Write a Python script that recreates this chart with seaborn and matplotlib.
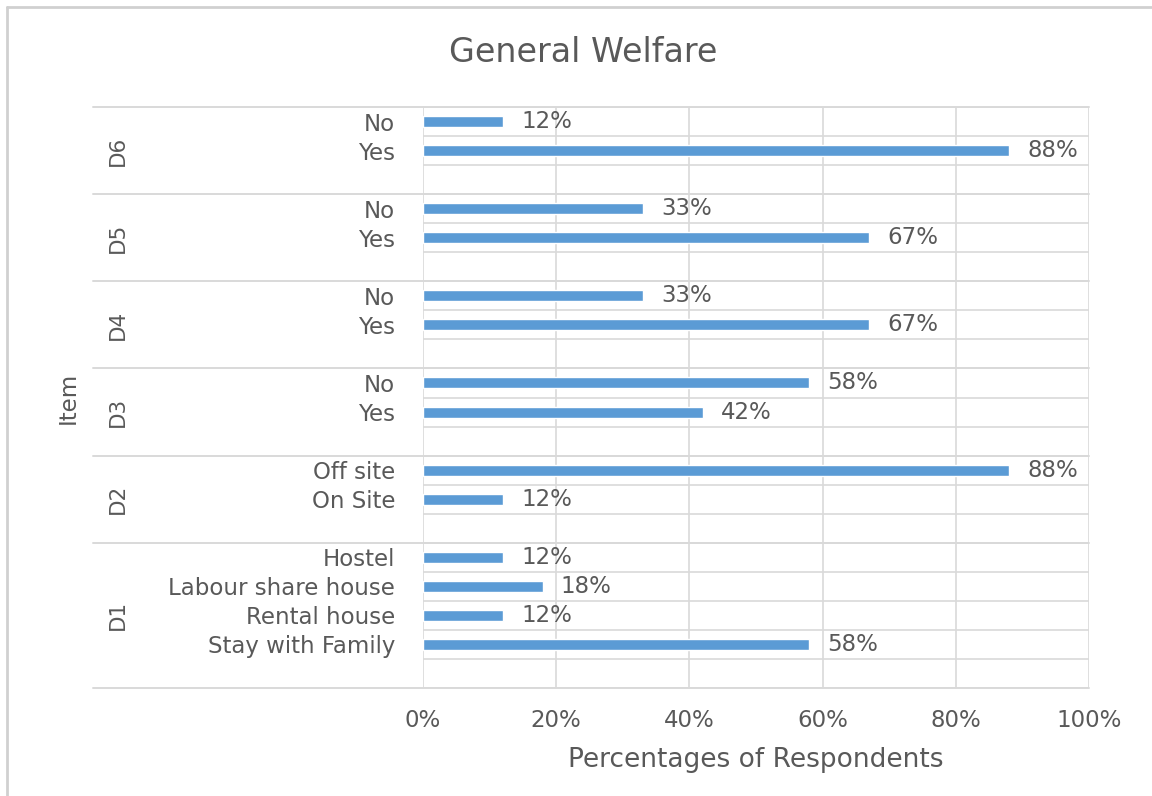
import matplotlib
matplotlib.use("Agg")
import matplotlib.pyplot as plt
import matplotlib.transforms as mtransforms
from matplotlib.lines import Line2D
import seaborn as sns
import pandas as pd
import numpy as np

# ---- data (bottom-to-top within each group) ----
groups = ["D1", "D2", "D3", "D4", "D5", "D6"]
d1_labels = ["Stay with Family", "Rental house", "Labour share house", "Hostel"]
d1_values = [58, 12, 18, 12]
d2_labels = ["On Site", "Off site"]
d2_values = [12, 88]
d3_labels = ["Yes", "No"]
d3_values = [42, 58]
d4_labels = ["Yes", "No"]
d4_values = [67, 33]
d5_labels = ["Yes", "No"]
d5_values = [67, 33]
d6_labels = ["Yes", "No"]
d6_values = [88, 12]
x_ticks = [0, 20, 40, 60, 80, 100]
x_tick_labels = ["0%", "20%", "40%", "60%", "80%", "100%"]

group_labels = [d1_labels, d2_labels, d3_labels, d4_labels, d5_labels, d6_labels]
group_values = [d1_values, d2_values, d3_values, d4_values, d5_values, d6_values]

# Build rows bottom-to-top: each group starts with an empty slot (as in the Excel source)
rows = []
for g, labs, vals in zip(groups, group_labels, group_values):
    rows.append((g, "", np.nan))
    for l, v in zip(labs, vals):
        rows.append((g, l, v))
rows = rows[::-1]  # top-to-bottom order for seaborn
df = pd.DataFrame(rows, columns=["group", "label", "value"])
df["row"] = [f"r{i}" for i in range(len(df))]
order = list(df["row"])

TEXT = "#595959"
GRID = "#D9D9D9"
BLUE = "#5B9BD5"
FONT = ["DejaVu Sans"]

sns.set_theme(style="white")
plt.rcParams["font.family"] = FONT

W, H = 1152, 796
fig = plt.figure(figsize=(W / 100, H / 100), dpi=100)
L, R, T, B = 423, 1089, 107, 688
ax = fig.add_axes([L / W, 1 - B / H, (R - L) / W, (B - T) / H])

plot_df = df.dropna(subset=["value"])
sns.barplot(data=plot_df, x="value", y="row", order=order, orient="h",
            color=BLUE, saturation=1, width=0.38, ax=ax, errorbar=None)

n = len(order)
ax.set_xlim(0, 100)
ax.set_ylim(n - 0.5, -0.5)
for s in ax.spines.values():
    s.set_visible(False)

ax.set_xticks(x_ticks)
ax.set_xticklabels(x_tick_labels)
ax.set_yticks(range(n))
ax.set_yticklabels(list(df["label"]))
ax.set_yticks(np.arange(-0.5, n, 1.0), minor=True)
ax.tick_params(axis="y", which="both", length=0, pad=20, labelsize=16.5, labelcolor=TEXT)
ax.tick_params(axis="x", length=0, pad=15, labelsize=16.5, labelcolor=TEXT)
ax.grid(axis="x", which="major", color=GRID, linewidth=1.2)
ax.grid(axis="y", which="minor", color=GRID, linewidth=1.2)
ax.grid(axis="y", which="major", visible=False)
ax.set_axisbelow(True)

ax.set_xlabel("Percentages of Respondents", fontsize=19, color=TEXT, labelpad=11)
ax.set_ylabel("")

# value labels
for i, (lab, v) in enumerate(zip(df["label"], df["value"])):
    if np.isnan(v):
        continue
    ax.annotate(f"{v:.0f}%", xy=(v, i), xytext=(13, 0), textcoords="offset points",
                ha="left", va="center", fontsize=16.5, color=TEXT)

# group separators extending into the label area
trans = mtransforms.blended_transform_factory(ax.transAxes, ax.transData)
x_left = (93 - L) / (R - L)
bounds = [-0.5]
pos = -0.5
group_rows = {}
for g in groups[::-1]:
    cnt = int((df["group"] == g).sum())
    group_rows[g] = (pos, pos + cnt)
    pos += cnt
    bounds.append(pos)
for b in bounds:
    ax.add_line(Line2D([x_left, 1.0], [b, b], transform=trans, color=GRID,
                       linewidth=1.4, clip_on=False))
# group labels
x_grp = (118 - L) / (R - L)
for g in groups:
    a, b = group_rows[g]
    ax.text(x_grp, (a + b) / 2, g, transform=trans, rotation=90, ha="center",
            va="center", fontsize=15.5, color=TEXT)

fig.text(68 / W, 1 - 398 / H, "Item", rotation=90, ha="center", va="center",
         fontsize=16.5, color=TEXT)
fig.text(583 / W, 1 - 53 / H, "General Welfare", ha="center", va="center",
         fontsize=24, color=TEXT)

# chart border (left and top edges visible)
fig.add_artist(Line2D([7 / W, 7 / W], [0, 1 - 7 / H], transform=fig.transFigure,
                      color="#D0D0D0", linewidth=2))
fig.add_artist(Line2D([7 / W, 1], [1 - 7 / H, 1 - 7 / H], transform=fig.transFigure,
                      color="#D0D0D0", linewidth=2))

fig.savefig("out.png", dpi=100, facecolor="white")
